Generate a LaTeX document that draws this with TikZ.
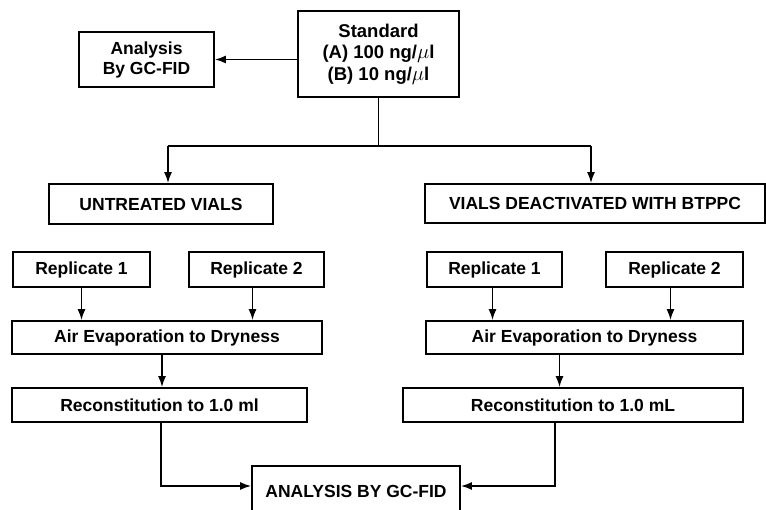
\documentclass[tikz,border=0pt]{standalone}
\usepackage{fontspec}
\setmainfont{Liberation Sans}
\usetikzlibrary{positioning,arrows.meta,calc}

\tikzset{
  box/.style={draw,inner sep=0pt,align=center,
    font=\fontsize{17.5}{20}\selectfont\bfseries},
  bigbox/.style={box,font=\fontsize{18.5}{21.5}\selectfont\bfseries}
}
\newcommand{\bigmu}{{\fontsize{21}{20}\selectfont$\mu$}}

\begin{document}
\begin{tikzpicture}[x=1pt,y=-1pt,line width=1.7pt,>={Latex[length=11pt,width=8pt]}]
    \useasboundingbox (0,0) rectangle (766,510);
    \clip (0,0) rectangle (766,510);

    % Standard und Analyse
    \node[bigbox,minimum width=161,minimum height=86] (std) at (378.5,54)
        {Standard\\(A) 100 ng/\bigmu l\\(B) 10 ng/\bigmu l};
    \node[box,minimum width=135,minimum height=55] (ana) at (146.5,59.5)
        {Analysis\\By GC-FID};
    \draw[->] (std.west |- ana.east) -- (ana.east);

    \node[box,minimum width=224,minimum height=40] (untr) at (161,204) {UNTREATED VIALS};
    \node[box,minimum width=340,minimum height=39] (deact) at (595,203.5) {VIALS DEACTIVATED WITH BTPPC};

    % Verzweigung
    \coordinate (split) at (378.5,146);
    \coordinate (splitL) at (168,146);
    \coordinate (splitR) at (591,146);
    \draw (std.south) -- (split);
    \draw (splitL) -- (splitR);
    \draw[->] (splitL) -- (splitL |- untr.north);
    \draw[->] (splitR) -- (splitR |- deact.north);

    % linke Seite
    \node[box,minimum width=137,minimum height=35] (repLa) at (81.5,269.5) {Replicate 1};
    \node[box,minimum width=135,minimum height=35] (repLb) at (256.5,269.5) {Replicate 2};
    \node[box,minimum width=310,minimum height=33] (airL) at (167,337.5) {Air Evaporation to Dryness};
    \node[box,minimum width=295,minimum height=34] (recL) at (159.5,405) {Reconstitution to 1.0 ml};
    \draw[->] (repLa.south) -- (repLa.south |- airL.north);
    \draw[->] ([xshift=-4]repLb.south) -- ([xshift=-4]repLb.south |- airL.north);
    \draw[->] ([xshift=-5]airL.south) -- ([xshift=-5]airL.south |- recL.north);

    % rechte Seite
    \node[box,minimum width=135,minimum height=35] (repRa) at (494.5,269.5) {Replicate 1};
    \node[box,minimum width=137,minimum height=35] (repRb) at (674.5,269.5) {Replicate 2};
    \node[box,minimum width=317,minimum height=33] (airR) at (584.5,337.5) {Air Evaporation to Dryness};
    \node[box,minimum width=340,minimum height=34] (recR) at (573,405) {Reconstitution to 1.0 mL};
    \draw[->] ([xshift=-2]repRa.south) -- ([xshift=-2]repRa.south |- airR.north);
    \draw[->] ([xshift=-4]repRb.south) -- ([xshift=-4]repRb.south |- airR.north);
    \draw[->] ([xshift=-25]airR.south) -- ([xshift=-25]airR.south |- recR.north);

    % Endanalyse
    \node[box,minimum width=208,minimum height=50] (final) at (356,491) {ANALYSIS BY GC-FID};
    \draw[->] ([xshift=1.5]recL.south) |- ([yshift=5]final.west);
    \draw[->] ([xshift=-18]recR.south) |- ([yshift=5]final.east);
\end{tikzpicture}
\end{document}
